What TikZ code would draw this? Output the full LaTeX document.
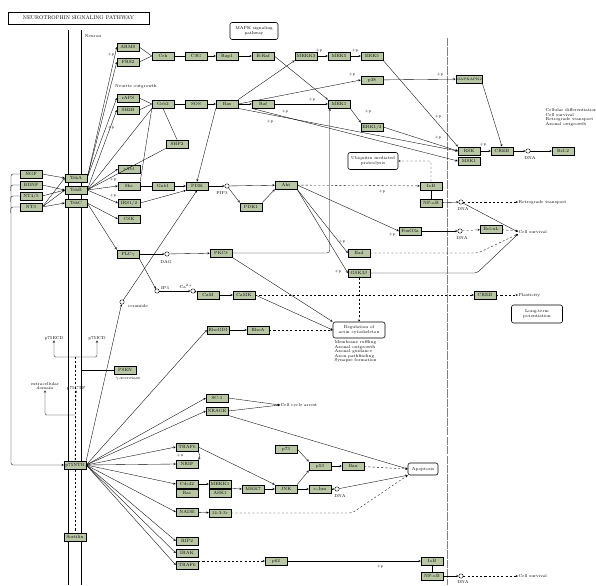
\documentclass[tikz,border=0pt]{standalone}
\usetikzlibrary{calc}
\definecolor{kgreen}{RGB}{184,198,164}
\tikzset{
  gene/.style={draw, line width=0.6pt, fill=kgreen, minimum width=1.1cm, minimum height=0.42cm, inner sep=0.3pt, font=\fontsize{6.5}{7}\selectfont},
  pmap/.style={draw, rounded corners=3pt, line width=0.8pt, align=center, inner sep=1pt, font=\fontsize{6}{6.5}\selectfont},
  cpd/.style={draw, circle, minimum size=0.22cm, inner sep=0pt, fill=white},
  note/.style={font=\fontsize{6}{6.5}\selectfont, align=left, inner sep=0.5pt},
  pp/.style={font=\fontsize{5.5}{6}\selectfont, inner sep=0pt},
}
\begin{document}
\begin{tikzpicture}[x=0.05cm, y=-0.05cm, >=stealth, line width=0.5pt]
\useasboundingbox (0,0) rectangle (596,585);

% title
\node[draw, line width=1pt, minimum width=7.05cm, minimum height=0.6cm, font=\fontsize{7.5}{8}\selectfont] (title) at (78.5,18) {NEUROTROPHIN SIGNALING PATHWAY};

% membranes
\draw[line width=1.1pt] (68,30) -- (68,585);
\draw[line width=1.1pt] (81,30) -- (81,585);
\draw[gray, line width=1.2pt, dash pattern=on 12pt off 1.5pt] (447,38) -- (447,585);
\node[note] (neuron) at (93,36) {Neuron};
\node[note] (outg) at (136,86) {Neurite outgrowth};

% ligands and receptors
\node[gene] (ngf) at (31,174) {NGF};
\node[gene] (bdnf) at (31,185) {BDNF};
\node[gene] (nt45) at (31,196) {NT4/5};
\node[gene] (nt3) at (31,207) {NT3};
\node[gene] (trka) at (76,178) {TrkA};
\node[gene] (trkb) at (76,190) {TrkB};
\node[gene] (trkc) at (76,203) {TrkC};
\node[gene] (p75ntr) at (75,465) {p75NTR};
\node[gene] (sort) at (75,537) {Sortilin};

% trk side
\node[gene] (arms) at (128,47) {ARMS};
\node[gene] (frs2) at (128,62) {FRS2};
\node[gene] (crk) at (163,56) {Crk};
\node[gene] (c3g) at (196,56) {C3G};
\node[gene] (rap1) at (227,56) {Rap1};
\node[gene] (braf) at (263,56) {B-Raf};
\node[gene] (mekk3) at (306,56) {MEKK3};
\node[gene] (mek5) at (339,56) {MEK5};
\node[gene] (erk5) at (372,56) {ERK5};
\node[gene] (p38) at (372,80) {p38};
\node[gene] (mapkapk2) at (469,79) {\fontsize{4.8}{5}\selectfont MAPKAPK2};
\node[gene] (raps) at (128,98) {rAPS};
\node[gene] (sh2b) at (128,110) {SH2B};
\node[gene] (grb2) at (163,104) {Grb2};
\node[gene] (sos) at (196,104) {SOS};
\node[gene] (ras) at (227,104) {Ras};
\node[gene] (raf) at (263,104) {Raf};
\node[gene] (mek1) at (339,104) {MEK1};
\node[gene] (erk12) at (372,127) {ERK1/2};
\node[gene] (rsk) at (469,151) {RSK};
\node[gene] (msk1) at (469,161) {MSK1};
\node[gene] (creb) at (502,151) {CREB};
\node[gene] (bcl2) at (563,151) {Bcl-2};
\node[gene] (shp2) at (177,144) {SHP2};
\node[gene] (cabl) at (129,169) {cAbl};
\node[gene] (shc) at (129,186) {Shc};
\node[gene] (irs) at (129,203) {IRS1/2};
\node[gene] (csk) at (129,219) {CSK};
\node[gene] (gab1) at (163,186) {Gab1};
\node[gene] (pi3k) at (197,186) {PI3K};
\node[gene] (pdk1) at (251,207) {PDK1};
\node[gene] (akt) at (286,185) {Akt};
\node[gene] (ikb) at (431,186) {I$\kappa$B};
\node[gene] (nfkb) at (431,203) {NF-$\kappa$B};
\node[gene] (foxo) at (410,231) {FoxO3a};
\node[gene] (bclxl) at (491,229) {Bcl-xL};
\node[gene] (bad) at (359,253) {Bad};
\node[gene] (gsk3b) at (359,273) {GSK3$\beta$};
\node[gene] (plcg) at (128,254) {PLC$\gamma$};
\node[gene] (pkcd) at (221,253) {PKC$\delta$};
\node[gene] (cam) at (208,295) {CaM};
\node[gene] (camk) at (244,295) {CaMK};
\node[gene] (creb2) at (485,295) {CREB};
\node[gene] (psen) at (125,370) {PSEN};

% p75 side
\node[gene] (rhogdi) at (218,330) {RhoGDI};
\node[gene] (rhoa) at (258,330) {RhoA};
\node[gene] (sc1) at (217,398) {SC-1};
\node[gene] (nrage) at (217,411) {NRAGE};
\node[gene] (traf6a) at (187,447) {TRAF6};
\node[gene] (nrif) at (187,464) {NRIF};
\node[gene] (cdc42) at (187,484) {Cdc42};
\node[gene] (rac) at (187,493) {Rac};
\node[gene] (nade) at (187,512) {NADE};
\node[gene] (rip2) at (187,541) {RIP2};
\node[gene] (irak) at (187,553) {IRAK};
\node[gene] (traf6b) at (187,565) {TRAF6};
\node[gene] (mekk1) at (220,484) {MEKK1};
\node[gene] (ask1) at (220,493) {ASK1};
\node[gene] (mkk7) at (253,489) {MKK7};
\node[gene] (jnk) at (286,489) {JNK};
\node[gene] (p73) at (286,449) {p73};
\node[gene] (p53) at (320,466) {p53};
\node[gene] (cjun) at (320,489) {c-Jun};
\node[gene] (bax) at (353,466) {Bax};
\node[gene] (ywha) at (220,513) {14-3-3$\varepsilon$};
\node[gene] (p62) at (276,561) {p62};
\node[gene] (ikb2) at (432,561) {I$\kappa$B};
\node[gene] (nfkb2) at (432,576) {NF-$\kappa$B};

% compounds
\node[cpd] (dna1) at (528,151) {};
\node[cpd] (dna2) at (461,202) {};
\node[cpd] (dna5) at (460,231) {};
\node[cpd] (dna3) at (337,489) {};
\node[cpd] (dna4) at (461,576) {};
\node[cpd] (pip3) at (227,186) {};
\node[cpd] (dag) at (167,254) {};
\node[cpd] (ip3) at (157,291) {};
\node[cpd] (ca) at (193,291) {};
\node[cpd] (cer) at (122,302) {};
\node[note] (dna1l) at (530,158) {DNA};
\node[note] (dna2l) at (463,209) {DNA};
\node[note] (dna5l) at (462,238) {DNA};
\node[note] (dna3l) at (340,496) {DNA};
\node[note] (dna4l) at (463,581.5) {DNA};
\node[note] (pip3l) at (222,193) {PIP3};
\node[note] (dagl) at (166,262) {DAG};
\node[note] (ip3l) at (165,288) {IP3};
\node[note] (cal) at (186,286) {Ca$^{2+}$};
\node[note] (cerl) at (138,306) {ceramide};

% maps
\node[pmap, minimum width=2.4cm, minimum height=0.85cm] (mapk) at (254,31) {MAPK signaling\\pathway};
\node[pmap, minimum width=2.5cm, minimum height=0.85cm] (ubq) at (373,161) {Ubiquitin mediated\\proteolysis};
\node[pmap, minimum width=2.6cm, minimum height=0.8cm] (reg) at (359,330) {Regulation of\\actin cytoskeleton};
\node[pmap, minimum width=2.55cm, minimum height=0.9cm] (ltp) at (537,314) {Long-term\\potentiation};
\node[pmap, minimum width=1.5cm, minimum height=0.6cm] (apo) at (423,469) {Apoptosis};

% outcomes
\node[note, anchor=north west] (diff) at (545,108) {Cellular differentiation\\Cell survival\\Retrograde transport\\Axonal outgrowth};
\node[note, anchor=west] (retro) at (518,202) {Retrograde transport};
\node[note, anchor=west] (surv) at (518,232) {Cell survival};
\node[note, anchor=west] (plast) at (518,295) {Plasticity};
\node[note, anchor=west] (cca) at (280,405) {Cell cycle arrest};
\node[note, anchor=west] (surv2) at (518,576) {Cell survival};
\node[note, anchor=north west] (actl) at (334,340) {Membrane ruffling\\Axonal outgrowth\\Axonal guidance\\Axon pathfinding\\Synapse formation};

% p75 cleavage
\node[note] (ecd) at (54,338) {p75ECD};
\node[note] (icd) at (97,338) {p75ICD};
\node[note] (ctf) at (76,388) {p75CTF};
\node[note, align=center] (exd) at (45,386) {extracellular\\domain};
\node[note] (gsec) at (128,379) {$\gamma$-secretase};
\coordinate (cl) at (75,357);
\coordinate (ex) at (75,415);
\coordinate (memr) at (81,370);

% +p marks
\foreach \x/\y [count=\i] in {111/55, 111/128, 319/51, 355/51, 312/100, 352/75, 368/112, 285/112, 270/122, 440/75, 438/117, 438/138, 483/145, 113/180, 113/196, 382/192, 342/242, 338/272, 392/235, 380/567}
  \node[pp] (pp\i) at (\x,\y) {+p};
\node[pp] (uu) at (180,456) {+u};

% ligand arrows
\draw[->] (ngf.east) -- (trka.west);
\draw[->] (bdnf.east) -- (trkb.west);
\draw[->] (nt45.east) -- (trkb.west);
\draw[->] (nt3.east) -- (trkc.west);
\draw[->] (nt3.east) -- (trka.west);
\draw[->] (nt3.east) -- (trkb.west);
\draw[->, rounded corners=3] (ngf.west) -- (11,174) -- (11,465) -- (p75ntr.west);
\foreach \n in {bdnf, nt45, nt3}
  \draw[rounded corners=3] (\n.west) -| ++(-9,6);

% trk fan
\draw[->] (trka.east) -- (arms.west);
\draw[->] (trka.east) -- (frs2.west);
\draw[->] (trka.east) -- (raps.west);
\draw[->] (trkb.east) -- (sh2b.west);
\draw (trkb.east) -- (grb2.south west);
\draw (trkb.east) -- (shp2.south west);
\draw[->] (trkb.east) -- (cabl.west);
\draw[->] (trkb.east) -- (shc.west);
\draw[->] (trkb.east) -- (irs.west);
\draw[->] (trkc.east) -- (csk.west);
\draw[->] (trkc.east) -- (plcg.north west);

% rap1 / ras
\draw (arms.east) -- (crk.west);
\draw (frs2.east) -- (crk.west);
\draw (crk) -- (c3g);
\draw[->] (c3g) -- (rap1);
\draw[->] (rap1) -- (braf);
\draw[->] (braf.east) -- (mek1.north west);
\draw[->] (mekk3) -- (mek5);
\draw[->] (mek5) -- (erk5);
\draw[->] (ras.north east) -- (mekk3.south west);
\draw[->] (ras.east) -- (p38.west);
\draw[->] (p38) -- (mapkapk2);
\draw[->] (mapkapk2.south east) -- (creb.north);
\draw[->] (erk5.south east) -- (rsk.north west);
\draw[->] (erk12.east) -- (rsk.west);
\draw[->] (ras.south east) -- (rsk.west);
\draw[->] (raf.south west) -- (msk1.west);
\draw[->] (rsk) -- (creb);
\draw[->] (creb) -- (dna1);
\draw[->] (dna1) -- (bcl2);
\draw (raps.east) -- (grb2.west);
\draw (sh2b.east) -- (grb2.west);
\draw (grb2) -- (sos);
\draw[->] (sos) -- (ras);
\draw[->] (ras) -- (raf);
\draw[->] (raf) -- (mek1);
\draw[->] (mek1.south east) -- (erk12.north west);
\draw (grb2.south) -- (shp2.north);
\draw (shc.north east) -- (grb2.south west);
\draw[->] (ras.south west) -- (pi3k.north);

% pi3k / akt
\draw (shc) -- (gab1);
\draw[->] (gab1) -- (pi3k);
\draw[->] (irs.east) -- (pi3k.south west);
\draw[->] (pi3k) -- (pip3);
\draw[->] (pip3) -- (akt);
\draw[->] (pip3) -- (pdk1.north west);
\draw[->] (pdk1.north east) -- (akt.south west);
\draw[->, dashed] (akt) -- (ikb);
\draw[->] (akt.east) -- (foxo.west);
\draw[->] (akt.south east) -- (bad.west);
\draw[->] (akt.south east) -- (gsk3b.west);
\draw (ikb) -- (nfkb);
\draw[->, dashed, rounded corners=3] (ikb.north) |- (ubq.east);
\draw[->] (nfkb) -- (dna2);
\draw[->, dashed] (dna2) -- (retro.west);
\draw[->] (dna2) -- (surv.west);
\draw[->] (foxo) -- (dna5);
\draw[->, dashed] (dna5) -- (bclxl);
\draw[->, dashed] (bclxl) -- (surv);
\draw[->, dashed, rounded corners=4] (bad.east) -- (478,253) -- (surv.south west);
\draw[->, rounded corners=4] (gsk3b.east) -- (477,273) -- (surv.south west);
\draw[->, dashed] (gsk3b.south) -- (reg.north);

% plc
\draw[->] (plcg) -- (dag);
\draw[->] (dag) -- (pkcd);
\draw[->, rounded corners=4] (pkcd.east) -| ([xshift=0.1cm]mek1.south west);
\draw[->] (plcg.south east) -- (ip3);
\draw[->] (ip3) -- (ca);
\draw[->] (ca) -- (cam);
\draw[->] (cam) -- (camk);
\draw[->, dashed] (camk) -- (creb2);
\draw[->, dashed] (creb2) -- (plast);
\draw[->] (pkcd.south east) -- (reg.north west);
\draw[->] (camk.east) -- (reg.west);
\draw[->] (cer) -- (pi3k.south);

% p75 fan
\draw[->] (p75ntr.north east) -- (cer);
\foreach \t in {rhogdi, sc1, nrage, traf6a, nrif, cdc42, nade, rip2, irak, traf6b}
  \draw[->] (p75ntr.east) -- (\t.west);
\draw[->] (rhogdi) -- (rhoa);
\draw[->, dashed] (rhoa) -- (reg);
\draw[->] (sc1.east) -- (cca.west);
\draw[->] (nrage.east) -- (cca.west);
\draw[->] (nrage.south east) -- (apo.west);
\draw[->] (traf6a.south east) to[bend left=40] (nrif.north east);
\draw[->] (traf6a.east) -- (jnk.north west);
\draw[->] (cdc42.east) -- (mekk1.west);
\draw[->] (mekk1.south east) -- (mkk7.west);
\draw[->] (mkk7) -- (jnk);
\draw[->] (jnk.north east) -- (p53.south west);
\draw[->] (p73.east) -- (p53.north west);
\draw[->] (jnk) -- (cjun);
\draw[->] (p53) -- (bax);
\draw[->, dashed] (bax) -- (apo.west);
\draw[->] (cjun) -- (dna3);
\draw[->] (dna3) -- (apo.south west);
\draw[->] (nade) -- (ywha);
\draw[->, dashed, rounded corners=4] (ywha.east) -- (352,513) -- (apo.south west);
\draw[->, dashed] (traf6b.east |- p62.west) -- (p62.west);
\draw[->] (p62) -- (ikb2);
\draw (ikb2) -- (nfkb2);
\draw[->] (nfkb2) -- (dna4);
\draw[->, dashed] (dna4) -- (surv2);

% membrane bits
\draw (memr) -- (psen.west);
\draw[->, rounded corners=2] (cl) -| (ecd.south);
\draw[->, rounded corners=2] (cl) -| (icd.south);
\draw[->, rounded corners=2] (ex) -| (exd.south);
\draw[dashed] (cl) -- (p75ntr.north);
\draw[->, dashed] (p75ntr.north) -- (ctf.south);
\draw[dashed] (p75ntr.south) -- (sort.north);

\end{tikzpicture}
\end{document}
